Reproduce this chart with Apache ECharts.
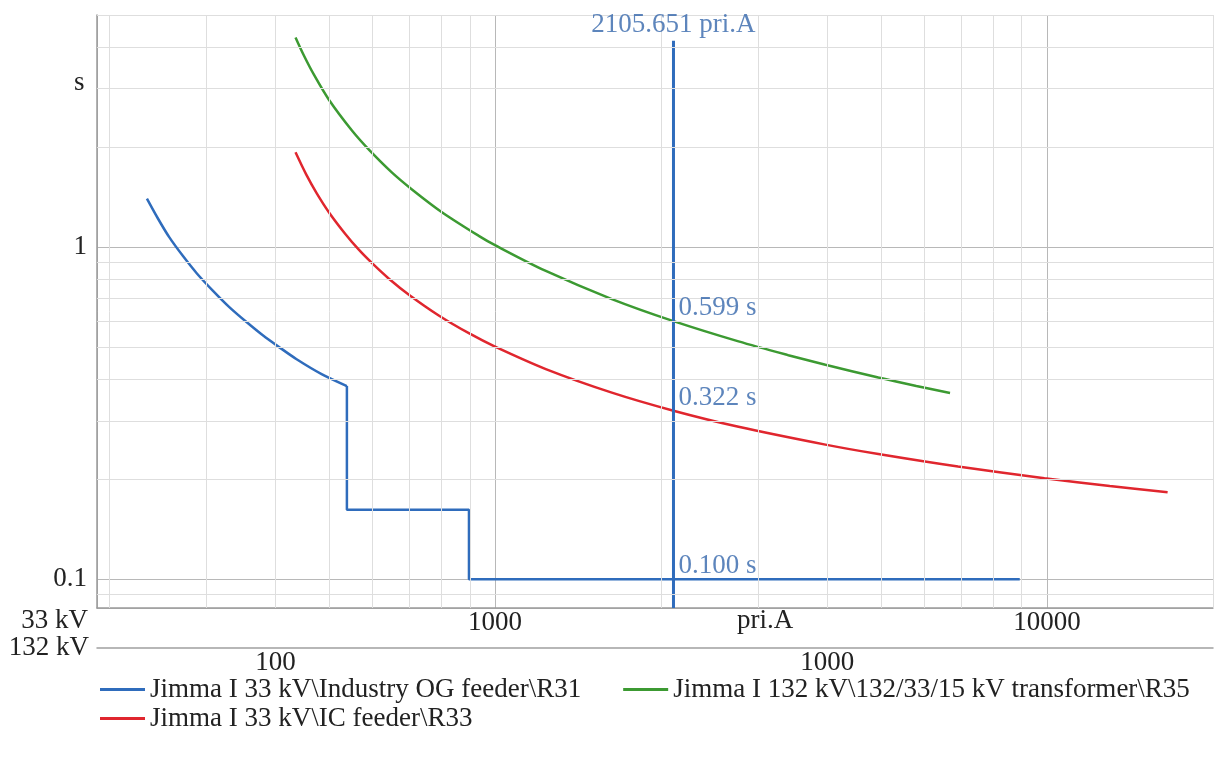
<!DOCTYPE html>
<html>
<head>
<meta charset="utf-8">
<title>Time-current characteristic</title>
<script src="https://cdn.jsdelivr.net/npm/echarts@6/dist/echarts.min.js"></script>
<style>
  html, body { margin: 0; padding: 0; background: #fff; }
  #chart { width: 1218px; height: 759px; }
</style>
</head>
<body>
<div id="chart"></div>
<script>
  // current on the 33 kV side (pri.A), tripping time (s)
  const r31Curve = [
    [234, 1.40], [245, 1.22], [257, 1.07], [272, 0.94], [288, 0.835], [308, 0.74],
    [330, 0.66], [355, 0.594], [380, 0.542], [405, 0.502], [437, 0.46], [485, 0.415],
    [539, 0.382]
  ];
  const r31Steps = [
    [539, 0.382], [539, 0.162], [897, 0.162], [897, 0.1], [8930, 0.1]
  ];
  const r35 = [
    [435, 4.28], [450, 3.79], [470, 3.30], [500, 2.78], [550, 2.25], [592, 1.96],
    [650, 1.68], [708, 1.49], [800, 1.277], [936, 1.08], [1000, 1.014], [1236, 0.848],
    [1628, 0.698], [2105.651, 0.599], [2762, 0.5205], [3400, 0.473], [3969, 0.4425],
    [4950, 0.405], [5800, 0.382], [6676, 0.364]
  ];
  const r33 = [
    [435, 1.93], [455, 1.653], [475, 1.455], [501, 1.268], [535, 1.098], [567, 0.981],
    [600, 0.892], [643, 0.8025], [700, 0.717], [792, 0.622], [900, 0.549], [1000, 0.502],
    [1236, 0.4297], [1628, 0.365], [2105.651, 0.322], [2762, 0.288], [3969, 0.2545],
    [4950, 0.2384], [6902, 0.2186], [9900, 0.2016], [13000, 0.191], [16550, 0.1828]
  ];

  const names = [
    'Jimma I 33 kV\\Industry OG feeder\\R31',
    'Jimma I 132 kV\\132/33/15 kV transformer\\R35',
    'Jimma I 33 kV\\IC feeder\\R33'
  ];

  const cursorCurrent = 2105.651;
  const cursorTop = 4.18;
  const cursorTimes = [0.599, 0.322, 0.100];

  const xMin = 190, xMax = 20000;      // 33 kV scale
  const ratio = 132 / 33;              // 132 kV scale = 33 kV / 4
  const yMin = 0.082, yMax = 5;

  const xMinorGrid = [200, 300, 400, 500, 600, 700, 800, 900,
                      2000, 3000, 4000, 5000, 6000, 7000, 8000, 9000, 20000];
  const yMinorGrid = [0.09, 0.2, 0.3, 0.4, 0.5, 0.6, 0.7, 0.8, 0.9, 2, 3, 4, 5];

  const font = 'Liberation Serif';
  const fs = 27;
  const blue = '#2f6cbc', green = '#3c9a32', red = '#e0262e', labelBlue = '#3567ab';

  const chart = echarts.init(document.getElementById('chart'));

  const legendText = { fontSize: fs, fontFamily: font, color: '#222' };
  const textFont = fs + 'px "Liberation Serif"';
  const intLabel = v => String(Math.round(v));

  chart.setOption({
    animation: false,
    grid: { left: 97, right: 5, top: 15, bottom: 151 },
    xAxis: [
      {
        type: 'log', logBase: 10, min: xMin, max: xMax, position: 'bottom',
        axisLine: { show: true, lineStyle: { color: '#9a9a9a', width: 1.5 } },
        axisTick: { show: false },
        axisLabel: { fontSize: fs, fontFamily: font, color: '#222', margin: 1,
                     showMinLabel: false, showMaxLabel: false, formatter: intLabel },
        splitLine: { show: true, lineStyle: { color: '#b8b8b8' } }
      },
      {
        type: 'log', logBase: 10, min: xMin / ratio, max: xMax / ratio,
        position: 'bottom', offset: 40,
        axisLine: { show: true, lineStyle: { color: '#a0a0a0', width: 1.5 } },
        axisTick: { show: false },
        axisLabel: { fontSize: fs, fontFamily: font, color: '#222', margin: 1,
                     showMinLabel: false, showMaxLabel: false, formatter: intLabel },
        splitLine: { show: false }
      }
    ],
    yAxis: {
      type: 'log', logBase: 10, min: yMin, max: yMax,
      axisLine: { show: true, lineStyle: { color: '#9a9a9a', width: 1.5 } },
      axisTick: { show: false },
      axisLabel: { fontSize: fs, fontFamily: font, color: '#222', margin: 10,
                   showMinLabel: false, showMaxLabel: false },
      splitLine: { show: true, lineStyle: { color: '#b8b8b8' } }
    },
    legend: [
      { data: [names[0], names[1]], left: 95, top: 671, itemGap: 42,
        itemWidth: 45, itemHeight: 3, icon: 'rect', textStyle: legendText },
      { data: [names[2]], left: 95, top: 700,
        itemWidth: 45, itemHeight: 3, icon: 'rect', textStyle: legendText }
    ],
    graphic: [
      { type: 'text', left: 74, top: 69, style: { text: 's', font: textFont, fill: '#222' } },
      { type: 'text', right: 1218 - 88, top: 607, style: { text: '33 kV', font: textFont, fill: '#222', align: 'right' } },
      { type: 'text', right: 1218 - 89, top: 634, style: { text: '132 kV', font: textFont, fill: '#222', align: 'right' } },
      { type: 'text', left: 737, top: 607, style: { text: 'pri.A', font: textFont, fill: '#222' } }
    ],
    series: [
      {
        name: 'minor grid', type: 'line', data: [], z: 1, silent: true,
        markLine: {
          silent: true, symbol: ['none', 'none'], label: { show: false },
          lineStyle: { color: '#dedede', type: 'solid', width: 1 },
          data: xMinorGrid.map(v => ({ xAxis: v })).concat(yMinorGrid.map(v => ({ yAxis: v })))
        }
      },
      {
        name: names[0], type: 'line', data: r31Curve, symbol: 'none', smooth: 0.3, z: 3,
        lineStyle: { color: blue, width: 2.5 }, itemStyle: { color: blue }
      },
      {
        name: names[0], type: 'line', data: r31Steps, symbol: 'none', z: 3,
        lineStyle: { color: blue, width: 2.5 }, itemStyle: { color: blue }
      },
      {
        name: names[1], type: 'line', data: r35, symbol: 'none', smooth: 0.3, z: 3,
        lineStyle: { color: green, width: 2.5 }, itemStyle: { color: green }
      },
      {
        name: names[2], type: 'line', data: r33, symbol: 'none', smooth: 0.3, z: 3,
        lineStyle: { color: red, width: 2.5 }, itemStyle: { color: red }
      },
      {
        name: 'cursor', type: 'line', data: [[cursorCurrent, yMin], [cursorCurrent, cursorTop]],
        symbol: 'none', z: 4, silent: true,
        lineStyle: { color: blue, width: 3 }
      },
      {
        name: 'cursor labels', type: 'scatter', symbolSize: 0, z: 5, silent: true,
        data: cursorTimes.map(t => ({
          value: [cursorCurrent, t],
          label: { show: true, position: 'right', distance: 5, offset: [0, -13],
                   formatter: t.toFixed(3) + ' s' }
        })).concat([{
          value: [cursorCurrent, cursorTop],
          label: { show: true, position: 'top', distance: 2,
                   formatter: cursorCurrent.toFixed(3) + ' pri.A' }
        }]),
        label: { fontSize: fs, fontFamily: font, color: labelBlue }
      }
    ]
  });
</script>
</body>
</html>
